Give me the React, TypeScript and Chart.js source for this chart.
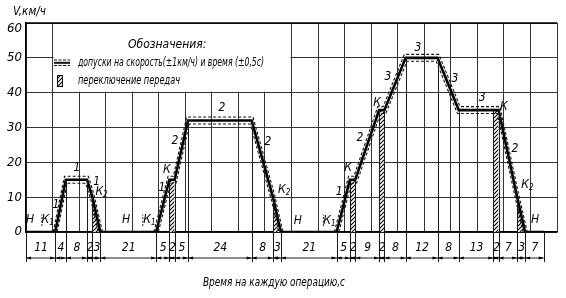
import React, { useEffect, useRef } from 'react';
import { Chart, registerables } from 'chart.js';
Chart.register(...registerables);

// Operation durations, s (dimension row under the axis)
const durations = [11, 4, 8, 2, 3, 21, 5, 2, 5, 24, 8, 3, 21, 5, 2, 9, 2, 8, 12, 8, 13, 2, 7, 3, 7];
// Speed, km/h, at each boundary between operations
const speeds = [0, 0, 15, 15, 10, 0, 0, 15, 15, 32, 32, 10, 0, 0, 15, 15, 35, 35, 50, 50, 35, 35, 35, 10, 0, 0];
// Gear-change (hatched) intervals, s
const gearShifts = [[25, 28], [54, 56], [93, 96], [122, 124], [133, 135], [176, 178], [185, 188]];
// Moments of clutch/gear-1 engagement marks (K1)
const clutchMarks = [6, 44, 112];
const yTicks = [0, 10, 20, 30, 40, 50, 60];
// Labels on the curve (time s, speed km/h)
const curveLabels = [
  { text: 'Н', t: 1.5, v: 3.4 },
  { text: 'К', sub: '1', t: 7.3, v: 3.4 },
  { text: '1', t: 11.3, v: 7.8 },
  { text: '1', t: 19.2, v: 18.3 },
  { text: '1', t: 26.6, v: 14.3 },
  { text: 'К', sub: '2', t: 27.6, v: 11.4 },
  { text: 'Н', t: 37.7, v: 3.4 },
  { text: 'К', sub: '1', t: 45.6, v: 3.4 },
  { text: '1', t: 51.2, v: 12.6 },
  { text: 'К', t: 53, v: 17.8 },
  { text: '2', t: 56.1, v: 26.3 },
  { text: '2', t: 73.8, v: 35.5 },
  { text: '2', t: 91.1, v: 25.8 },
  { text: 'К', sub: '2', t: 96.4, v: 12 },
  { text: 'Н', t: 102.4, v: 3.1 },
  { text: 'К', sub: '1', t: 113.4, v: 3.1 },
  { text: '1', t: 118, v: 11.5 },
  { text: 'К', t: 121.3, v: 18.3 },
  { text: '2', t: 125.8, v: 27 },
  { text: 'К', t: 132.2, v: 37 },
  { text: '3', t: 136.3, v: 44.4 },
  { text: '3', t: 147.6, v: 53 },
  { text: '3', t: 161.6, v: 44 },
  { text: '3', t: 171.8, v: 38.4 },
  { text: 'К', t: 180, v: 36 },
  { text: '2', t: 184.2, v: 24 },
  { text: 'К', sub: '2', t: 188, v: 13.4 },
  { text: 'Н', t: 191.7, v: 3.4 },
];

const times: number[] = durations.reduce((acc: number[], d) => { acc.push(acc[acc.length - 1] + d); return acc; }, [0]);
const speedAt = (t: number) => speeds[times.indexOf(t)];

const FONT = "'Liberation Sans Narrow', 'DejaVu Sans Condensed', 'Arial Narrow', 'DejaVu Sans', sans-serif";

// tolerance band (+-1 km/h, +-0.5 s) derived from the profile
function tolerance(sign: number) {
  const pts: { x: number; y: number | null }[] = [];
  const n = times.length;
  for (let i = 0; i < n; i++) {
    const v = speeds[i];
    const prev = i > 0 ? speeds[i - 1] : v;
    const next = i < n - 1 ? speeds[i + 1] : v;
    const isStart = v === 0 && next > 0;
    const isEnd = v === 0 && prev > 0;
    if (v === 0 && !isStart && !isEnd) continue;
    if (isStart) {
      const s = next / (times[i + 1] - times[i]);
      if (pts.length) pts.push({ x: times[i], y: null });
      pts.push({ x: times[i] - sign * (0.5 + 1 / s), y: 0 });
      continue;
    }
    if (isEnd) {
      const s = prev / (times[i] - times[i - 1]);
      pts.push({ x: times[i] + sign * (0.5 + 1 / s), y: 0 });
      continue;
    }
    const dOut = Math.sign(next - v);
    const dIn = Math.sign(v - prev);
    const d = dOut !== 0 ? dOut : dIn;
    pts.push({ x: times[i] - sign * 0.5 * d, y: v + sign });
  }
  return pts;
}

function makePattern(ctx: CanvasRenderingContext2D) {
  const pc = document.createElement('canvas');
  pc.width = 4; pc.height = 4;
  const p = pc.getContext('2d')!;
  p.fillStyle = '#fff'; p.fillRect(0, 0, 4, 4);
  p.strokeStyle = '#000'; p.lineWidth = 1.1;
  p.beginPath();
  p.moveTo(0, 4); p.lineTo(4, 0);
  p.moveTo(-1, 1); p.lineTo(1, -1);
  p.moveTo(3, 5); p.lineTo(5, 3);
  p.stroke();
  return ctx.createPattern(pc, 'repeat')!;
}

function italic(size: number) { return `italic ${size}px ${FONT}`; }

export default function App() {
  const ref = useRef<HTMLCanvasElement>(null);
  useEffect(() => {
    const canvas = ref.current!;
    const ctx0 = canvas.getContext('2d')!;
    const pattern = makePattern(ctx0);

    const drawing = {
      id: 'drawing',
      beforeDatasetsDraw(chart: any) {
        const { ctx, scales: { x, y } } = chart;
        const l = x.getPixelForValue(10) + 1, r = x.getPixelForValue(100) - 1;
        const t = y.getPixelForValue(60) + 1, b = y.getPixelForValue(40) - 1;
        ctx.save();
        ctx.fillStyle = '#fff';
        ctx.fillRect(l, t, r - l, b - t);
        ctx.restore();
      },
      afterDatasetsDraw(chart: any) {
        const { ctx, chartArea, scales: { x, y } } = chart;
        const bottom = chartArea.bottom;
        ctx.save();
        // top border
        ctx.strokeStyle = '#000'; ctx.lineWidth = 1.5;
        ctx.beginPath(); ctx.moveTo(chartArea.left, chartArea.top); ctx.lineTo(chartArea.right, chartArea.top); ctx.stroke();
        // y tick labels
        ctx.fillStyle = '#000';
        ctx.font = italic(13);
        ctx.textAlign = 'right'; ctx.textBaseline = 'middle';
        yTicks.forEach((v) => {
          const py = Math.max(y.getPixelForValue(v), chartArea.top + 6);
          ctx.fillText(String(v), chartArea.left - 4, py);
        });
        // drop / extension lines
        ctx.lineWidth = 1; ctx.strokeStyle = '#1a1a1a';
        const extEnd = bottom + 30;
        times.forEach((t, i) => {
          const px = Math.round(x.getPixelForValue(t)) + 0.5;
          ctx.beginPath(); ctx.moveTo(px, y.getPixelForValue(speeds[i])); ctx.lineTo(px, extEnd); ctx.stroke();
        });
        // dimension line
        const dy = bottom + 26;
        ctx.beginPath(); ctx.moveTo(x.getPixelForValue(times[0]), dy); ctx.lineTo(x.getPixelForValue(times[times.length - 1]), dy); ctx.stroke();
        ctx.fillStyle = '#000';
        for (let i = 0; i < durations.length; i++) {
          const a = x.getPixelForValue(times[i]), b = x.getPixelForValue(times[i + 1]);
          ctx.beginPath(); ctx.moveTo(a, dy); ctx.lineTo(a + 5, dy - 1.6); ctx.lineTo(a + 5, dy + 1.6); ctx.closePath(); ctx.fill();
          ctx.beginPath(); ctx.moveTo(b, dy); ctx.lineTo(b - 5, dy - 1.6); ctx.lineTo(b - 5, dy + 1.6); ctx.closePath(); ctx.fill();
          ctx.font = italic(12);
          ctx.textAlign = 'center'; ctx.textBaseline = 'middle';
          ctx.fillText(String(durations[i]), (a + b) / 2 + 0.5, bottom + 16);
        }
        // clutch marks
        ctx.setLineDash([2, 1.5]);
        clutchMarks.forEach((t) => {
          const px = x.getPixelForValue(t);
          ctx.beginPath(); ctx.moveTo(px, y.getPixelForValue(1.7)); ctx.lineTo(px, y.getPixelForValue(5)); ctx.stroke();
        });
        ctx.setLineDash([]);
        // curve labels
        ctx.fillStyle = '#000';
        curveLabels.forEach((lb: any) => {
          const px = x.getPixelForValue(lb.t), py = y.getPixelForValue(lb.v);
          ctx.font = italic(12);
          ctx.textAlign = 'center'; ctx.textBaseline = 'middle';
          ctx.fillText(lb.text, px, py);
          if (lb.sub) {
            const w = ctx.measureText(lb.text).width;
            ctx.font = italic(8);
            ctx.textAlign = 'left';
            ctx.fillText(lb.sub, px + w / 2, py + 3);
          }
        });
        // legend
        ctx.textAlign = 'left'; ctx.textBaseline = 'middle';
        ctx.font = italic(12);
        const title = 'Обозначения:';
        const tw = ctx.measureText(title).width;
        const sp = Math.max(0, (77 - tw) / title.length);
        (ctx as any).letterSpacing = sp.toFixed(2) + 'px';
        ctx.fillText(title, 128, 45);
        (ctx as any).letterSpacing = '0px';
        ctx.fillText('допуски на скорость(±1км/ч) и время (±0,5с)', 78, 63, 186);
        ctx.fillText('переключение передач', 78, 81, 102);
        ctx.strokeStyle = '#111';
        ctx.lineWidth = 1; ctx.setLineDash([3, 1.5]);
        ctx.beginPath(); ctx.moveTo(54, 60); ctx.lineTo(70, 60); ctx.moveTo(54, 65.5); ctx.lineTo(70, 65.5); ctx.stroke();
        ctx.setLineDash([]); ctx.lineWidth = 2;
        ctx.beginPath(); ctx.moveTo(54, 62.8); ctx.lineTo(70, 62.8); ctx.stroke();
        ctx.fillStyle = pattern; ctx.fillRect(57, 75, 6, 12);
        ctx.lineWidth = 1; ctx.strokeRect(57.5, 75.5, 5, 11);
        // axis titles
        ctx.fillStyle = '#000';
        ctx.font = italic(13);
        ctx.textAlign = 'left';
        ctx.fillText('V,км/ч', 13, 12, 33);
        ctx.textAlign = 'center';
        ctx.font = italic(12);
        ctx.fillText('Время на каждую операцию,с', 274, 283, 142);
        ctx.restore();
      },
    };

    const chart = new Chart(canvas, {
      type: 'line',
      data: {
        datasets: [
          { data: times.map((t, i) => ({ x: t, y: speeds[i] })), borderColor: '#000', borderWidth: 2.6, pointRadius: 0, tension: 0, fill: false },
          { data: tolerance(1) as any, borderColor: '#111', borderWidth: 1.1, borderDash: [3, 2], pointRadius: 0, fill: false },
          { data: tolerance(-1) as any, borderColor: '#111', borderWidth: 1.1, borderDash: [3, 2], pointRadius: 0, fill: false },
          ...gearShifts.map(([a, b]) => ({
            data: [{ x: a, y: speedAt(a) }, { x: b, y: speedAt(b) }],
            borderWidth: 0, borderColor: 'rgba(0,0,0,0)', backgroundColor: pattern as any, fill: 'origin', pointRadius: 0,
          })),
        ] as any,
      },
      options: {
        animation: false,
        responsive: false,
        maintainAspectRatio: false,
        layout: { padding: { left: 0, right: 9, top: 23, bottom: 66 } },
        plugins: { legend: { display: false }, tooltip: { enabled: false } },
        scales: {
          x: {
            type: 'linear', min: 0, max: 200,
            ticks: { display: false, stepSize: 10 },
            grid: { color: '#333', lineWidth: 1, drawTicks: false },
            border: { display: true, color: '#000', width: 1.5 },
            afterFit: (s: any) => { s.height = 0; },
          },
          y: {
            min: 0, max: 60,
            afterBuildTicks: (s: any) => { s.ticks = yTicks.map((v) => ({ value: v })); },
            ticks: { display: false },
            grid: { color: '#333', lineWidth: 1, drawTicks: false },
            border: { color: '#000', width: 1.5 },
            afterFit: (s: any) => { s.width = 26; },
          },
        },
      } as any,
      plugins: [drawing],
    });
    return () => chart.destroy();
  }, []);
  return (
    <div style={{ position: 'absolute', left: 0, top: 0, width: 566, height: 298, background: '#fff' }}>
      <canvas ref={ref} width={566} height={298} />
    </div>
  );
}
